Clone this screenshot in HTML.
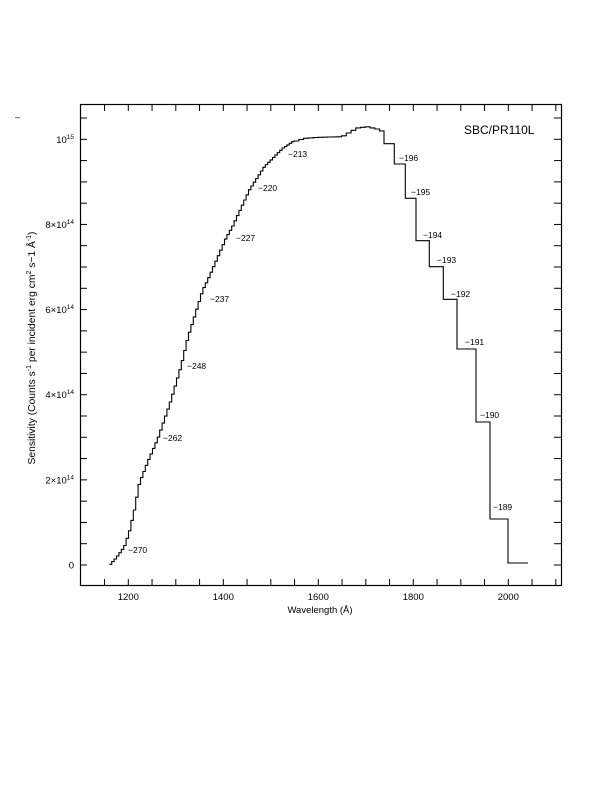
<!DOCTYPE html>
<html><head><meta charset="utf-8"><style>
html,body{margin:0;padding:0;background:#fff}
svg{display:block}
text{font-family:"Liberation Sans",sans-serif;fill:#000}
</style></head><body>
<svg id="s" width="612" height="792" viewBox="0 0 612 792" xmlns="http://www.w3.org/2000/svg">
<rect x="80.5" y="104.5" width="481" height="481" fill="none" stroke="#000" stroke-width="1.2"/>
<g id="ticks" stroke="#000" stroke-width="1"></g>
<g font-size="9.5" text-anchor="middle">
<text x="128.3" y="600">1200</text>
<text x="223.3" y="600">1400</text>
<text x="318.3" y="600">1600</text>
<text x="413.3" y="600">1800</text>
<text x="508.3" y="600">2000</text>
<text x="320" y="613">Wavelength (Å)</text>
</g>
<g font-size="9.5" text-anchor="end">
<text x="74" y="568.5">0</text>
<text x="74" y="483.5">2×10<tspan font-size="6.5" dy="-4">14</tspan></text>
<text x="74" y="398">4×10<tspan font-size="6.5" dy="-4">14</tspan></text>
<text x="74" y="313">6×10<tspan font-size="6.5" dy="-4">14</tspan></text>
<text x="74" y="228">8×10<tspan font-size="6.5" dy="-4">14</tspan></text>
<text x="74" y="143">10<tspan font-size="6.5" dy="-4">15</tspan></text>
</g>
<text x="35" y="348" font-size="10.3" text-anchor="middle" transform="rotate(-90 35 348)">Sensitivity (Counts s<tspan font-size="7" dy="-4">-1</tspan><tspan dy="4"> per incident erg cm</tspan><tspan font-size="7" dy="-4">2</tspan><tspan dy="4"> s−1 Å</tspan><tspan font-size="7" dy="-4">-1</tspan><tspan dy="4">)</tspan></text>
<text x="15" y="120" font-size="9">–</text>
<text x="464" y="134" font-size="12">SBC/PR110L</text>
<g font-size="8.5">
<text x="128" y="553">−270</text>
<text x="163" y="441">−262</text>
<text x="187" y="369">−248</text>
<text x="210" y="302">−237</text>
<text x="236" y="241">−227</text>
<text x="258" y="191">−220</text>
<text x="288" y="157">−213</text>
<text x="399" y="161">−196</text>
<text x="411" y="195">−195</text>
<text x="423" y="238">−194</text>
<text x="437" y="263">−193</text>
<text x="451" y="297">−192</text>
<text x="465" y="345">−191</text>
<text x="480" y="418">−190</text>
<text x="493" y="510">−189</text>
</g>
<path id="curve" fill="none" stroke="#000" stroke-width="1.1"/>
</svg>
<script>
var t=document.getElementById('ticks'),h='';
for(var w=1150;w<=2100;w+=50){var x=128.3+(w-1200)*0.475;if(x>81&&x<561)h+='<line x1="'+x+'" y1="586" x2="'+x+'" y2="579"/><line x1="'+x+'" y1="104" x2="'+x+'" y2="111"/>';}
for(var v=-0.5;v<=11;v+=0.5){var y=565-v*42.57;if(y>105&&y<585)h+='<line x1="80" y1="'+y+'" x2="87" y2="'+y+'"/><line x1="561" y1="'+y+'" x2="554" y2="'+y+'"/>';}
t.innerHTML=h;
var P=[[109.3,564.3],[115,558],[123.3,546.7],[128.3,531.7],[133.3,510],[138.3,483.3],[146.7,461.7],[157,438],[170,400],[180,366],[186.7,338],[201.7,290],[206.7,280],[225,238],[231.7,226],[248.3,190],[263.3,166.7],[281.7,148.3],[291.7,141.7],[303,138.3],[318,137.3],[340,136.7],[355,128],[365,126.7],[375,129],[384,132.7]];
function f(x){for(var i=0;i<P.length-1;i++){if(x<=P[i+1][0]){var a=P[i],b=P[i+1];return a[1]+(b[1]-a[1])*(x-a[0])/(b[0]-a[0]);}}return P[P.length-1][1];}
var d='M109.3 '+f(109.3),x=109.3,st=2.4;
while(x<384){var nx=Math.min(x+st,384);if(x>290)st=4.75;var y=f(nx);d+=' H'+nx.toFixed(1)+' V'+y.toFixed(1);x=nx;}
d+=' V143.7 H394.3 V164 H405.3 V198.3 H416 V240.7 H429.3 V266.7 H443.3 V299.3 H457 V349 H476 V422 H490 V519 H508 V563 H528';
document.getElementById('curve').setAttribute('d',d);
</script>
</body></html>
